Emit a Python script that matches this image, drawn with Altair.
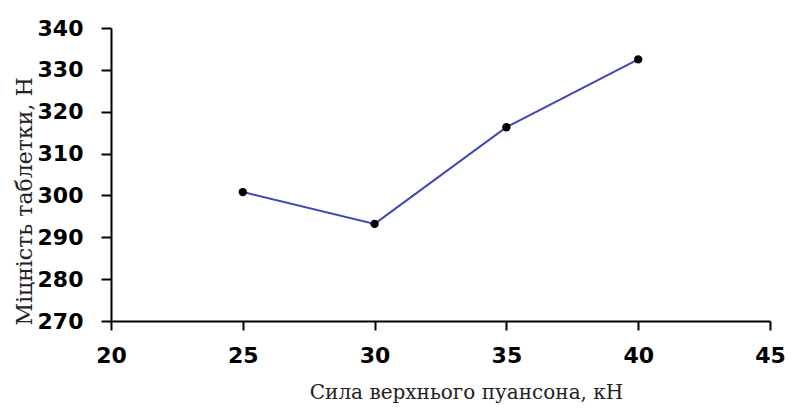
import altair as alt
import pandas as pd

force = [25, 30, 35, 40]
strength = [300.8, 293.2, 316.3, 332.5]
x_ticks = [20, 25, 30, 35, 40, 45]
y_ticks = [270, 280, 290, 300, 310, 320, 330, 340]
x_title = "Сила верхнього пуансона,  кН"
y_title = "Міцність таблетки, Н"

df = pd.DataFrame({"force": force, "strength": strength})

x_enc = alt.X(
    "force:Q",
    scale=alt.Scale(domain=[20, 45], nice=False, zero=False),
    axis=alt.Axis(
        values=x_ticks, title=x_title, grid=False, labelFlush=False,
        domainColor="black", domainWidth=2, tickColor="black", tickWidth=2, tickSize=9,
        labelFont="DejaVu Sans", labelFontWeight="bold", labelFontSize=22, labelColor="black",
        labelPadding=15,
        titleFont="DejaVu Serif", titleFontWeight="normal", titleFontSize=20, titleColor="#222",
        titleX=355, titleY=77, titleBaseline="alphabetic", titleAnchor="middle",
    ),
)
y_enc = alt.Y(
    "strength:Q",
    scale=alt.Scale(domain=[270, 340], nice=False, zero=False),
    axis=alt.Axis(
        values=y_ticks, title=y_title, grid=False, labelFlush=False,
        domainColor="black", domainWidth=2, tickColor="black", tickWidth=2, tickSize=10,
        labelFont="DejaVu Sans", labelFontWeight="bold", labelFontSize=22, labelColor="black",
        labelPadding=18,
        titleFont="DejaVu Serif", titleFontWeight="normal", titleFontSize=22, titleColor="#222",
        titleAngle=270, titleX=-80, titleY=173, titleBaseline="alphabetic", titleAnchor="middle",
    ),
)

line = alt.Chart(df).mark_line(color="#3f48b5", strokeWidth=2).encode(x=x_enc, y=y_enc)
pts = alt.Chart(df).mark_point(filled=True, color="black", size=70, opacity=1).encode(x="force:Q", y="strength:Q")

chart = (line + pts).properties(
    width=659, height=293,
    background="white",
    autosize=alt.AutoSizeParams(type="none"),
    padding={"left": 103, "top": 20, "right": 16, "bottom": 83},
).configure_view(stroke=None, strokeWidth=0)

chart.save("out.html", embed_options={"renderer": "svg", "actions": False})
